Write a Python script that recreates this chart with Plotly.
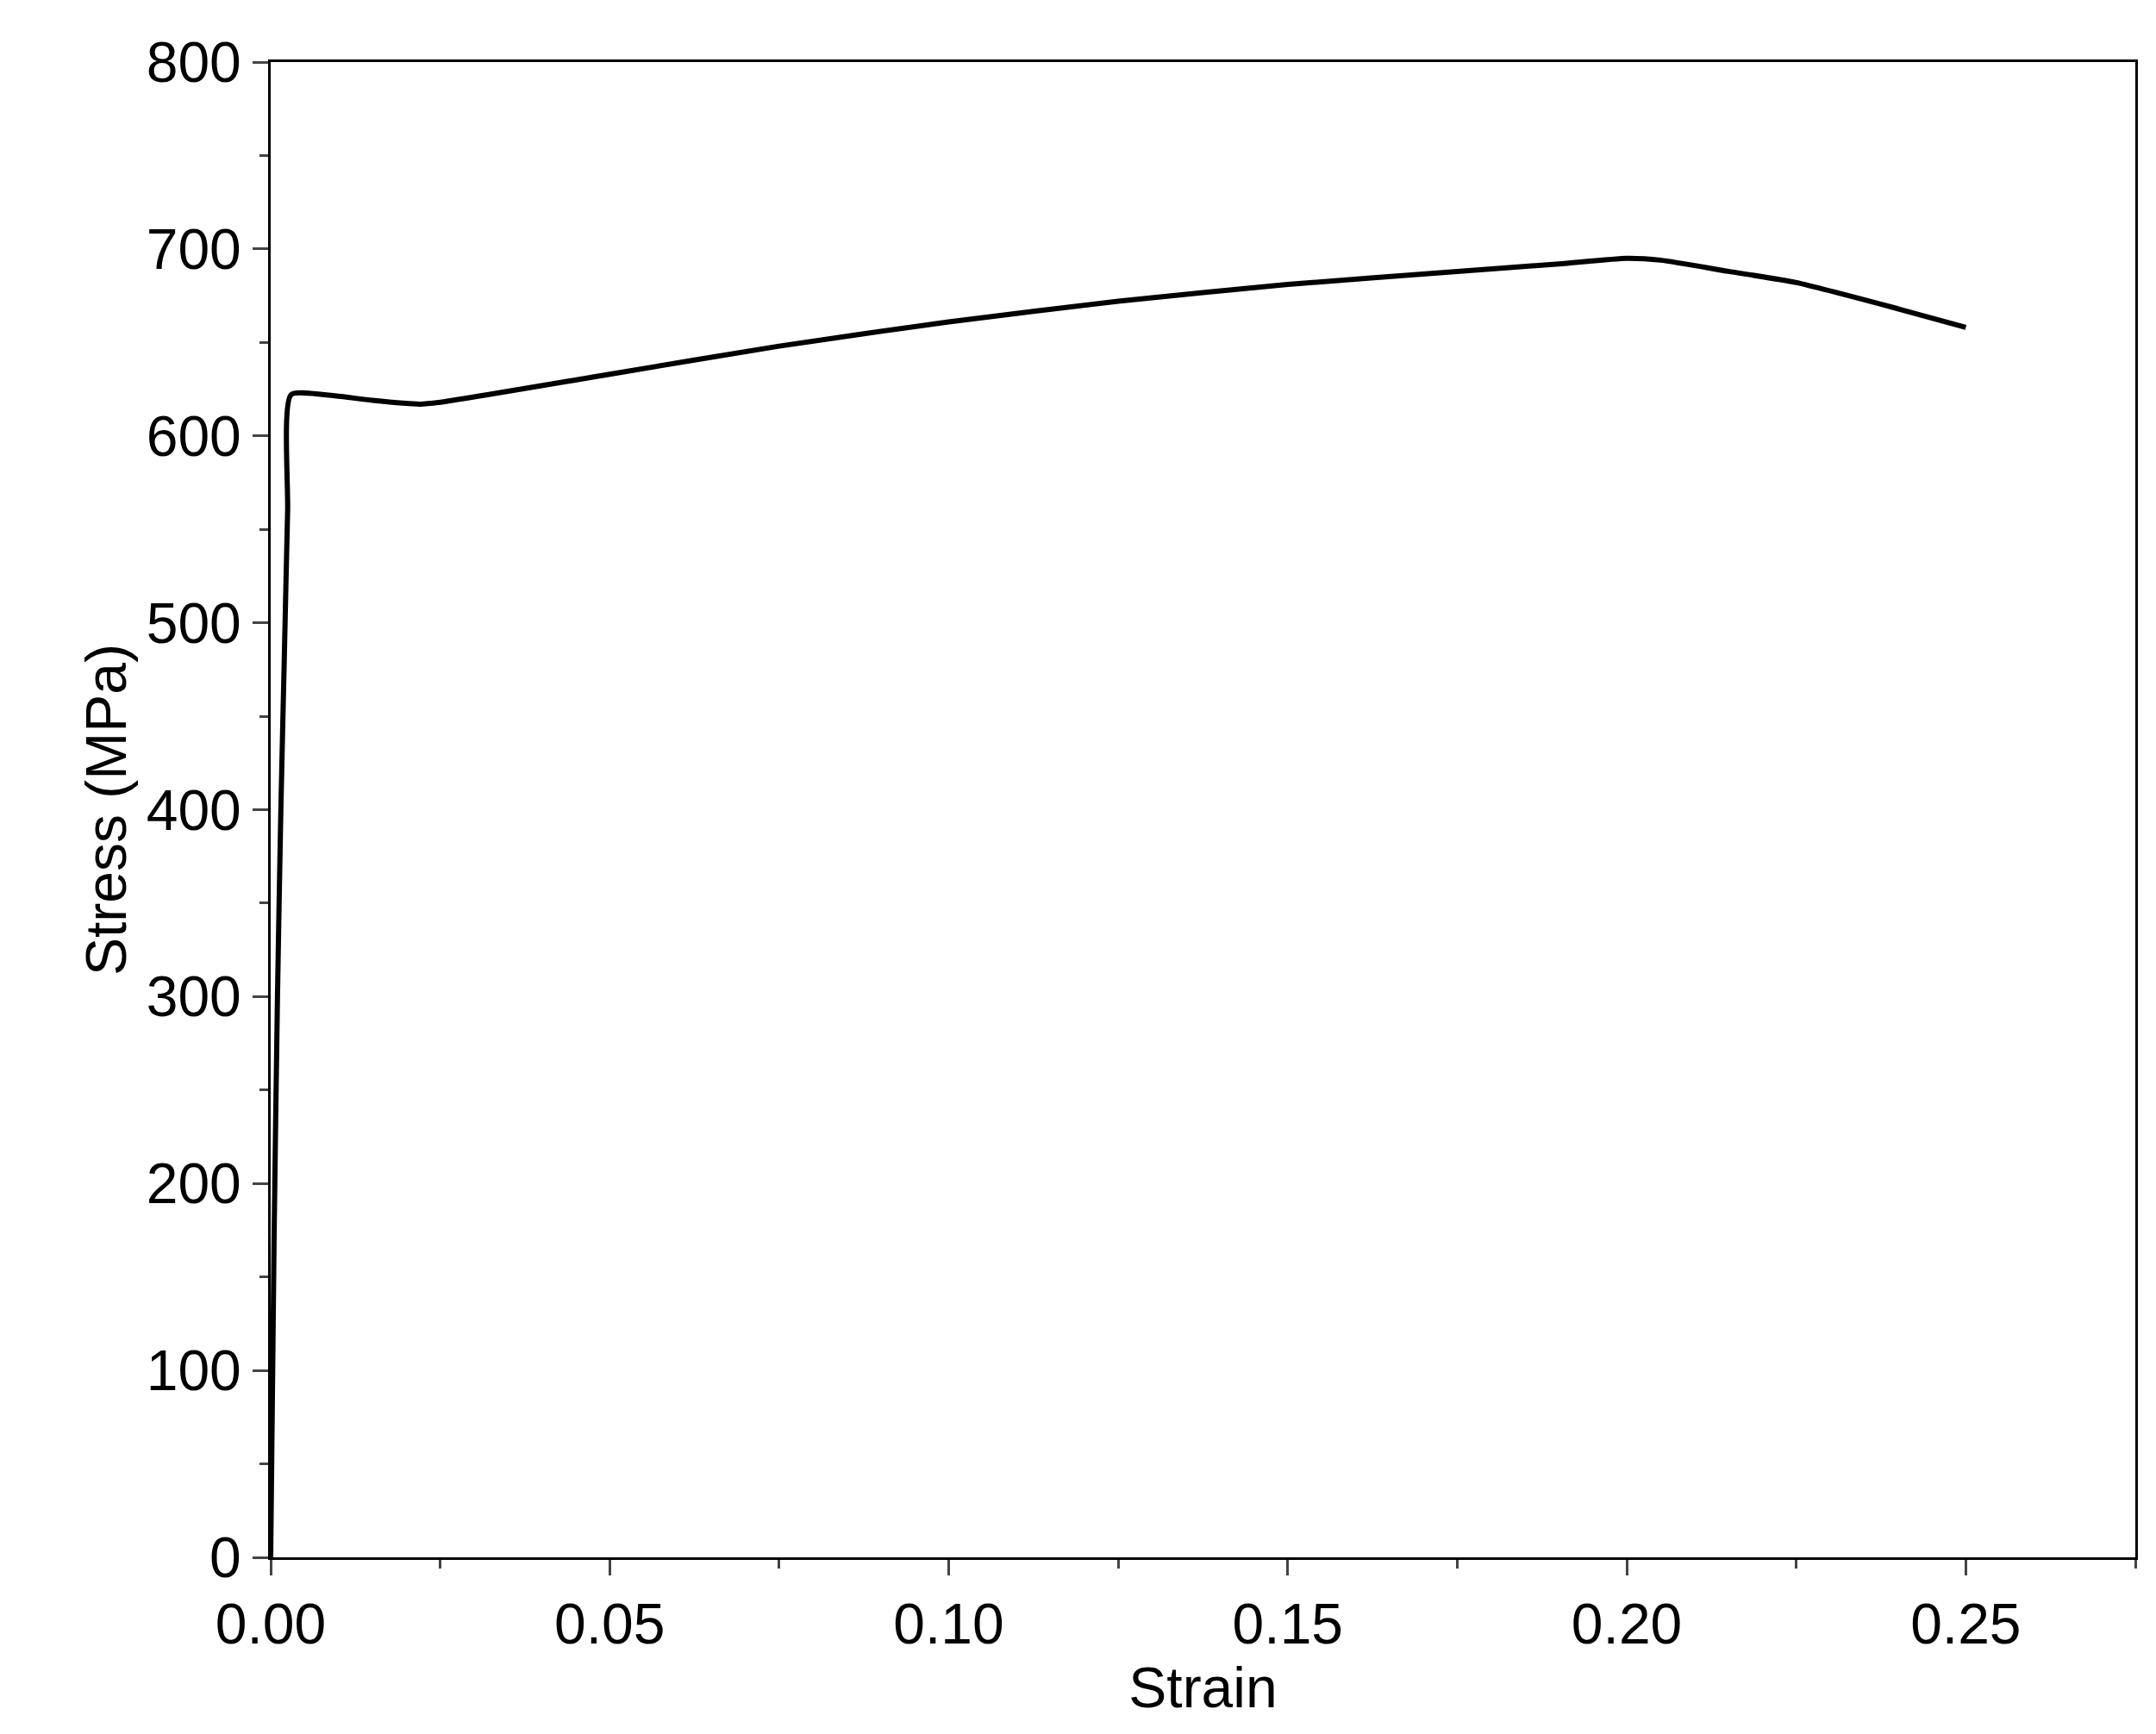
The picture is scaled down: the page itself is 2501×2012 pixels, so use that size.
import plotly.graph_objects as go

strain = [0, 0.0005, 0.001, 0.0015, 0.002, 0.0025, 0.003, 0.008, 0.015, 0.022, 0.025,
          0.05, 0.075, 0.1, 0.125, 0.15, 0.175, 0.19, 0.2, 0.205, 0.215, 0.225, 0.24, 0.25]
stress = [0, 170, 300, 400, 480, 560, 622, 622, 619, 617, 618,
          633, 648, 661, 672, 681, 688, 692, 695, 694, 688, 682, 668, 658]

fig = go.Figure(go.Scatter(x=strain, y=stress, mode="lines",
                           line=dict(color="black", width=6, shape="spline", smoothing=0.6),
                           showlegend=False))

font = dict(family="Liberation Sans, Arial", size=66, color="black")
fig.update_xaxes(range=[0, 0.275], tickvals=[0, 0.05, 0.1, 0.15, 0.2, 0.25],
                 ticktext=["0.00", "0.05", "0.10", "0.15", "0.20", "0.25"],
                 ticks="outside", ticklen=18, tickwidth=3, showline=True, linewidth=3,
                 linecolor="black", mirror=True, showgrid=False, zeroline=False,
                 minor=dict(dtick=0.025, ticks="outside", ticklen=10, tickwidth=3),
                 title=dict(text="Strain", font=font, standoff=2), tickfont=font)
fig.update_yaxes(range=[0, 800], dtick=100, ticks="outside", ticklen=18, tickwidth=3,
                 showline=True, linewidth=3, linecolor="black", mirror=True,
                 showgrid=False, zeroline=False,
                 minor=dict(dtick=50, ticks="outside", ticklen=10, tickwidth=3),
                 title=dict(text="Stress (MPa)", font=font, standoff=2), tickfont=font)
fig.update_layout(width=2501, height=2012, plot_bgcolor="white", paper_bgcolor="white",
                  margin=dict(l=306, r=32, t=64, b=213))
fig.write_html("out.html")
